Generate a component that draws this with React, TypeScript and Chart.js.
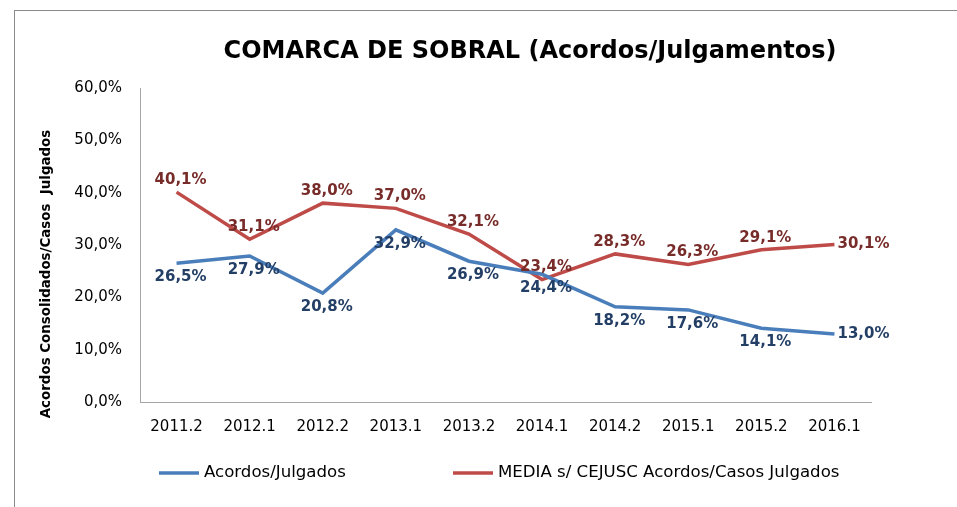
import React, { useEffect, useRef } from "react";
import { Chart, registerables } from "chart.js";

Chart.register(...registerables);

const categories = ["2011.2", "2012.1", "2012.2", "2013.1", "2013.2", "2014.1", "2014.2", "2015.1", "2015.2", "2016.1"];
const acordosJulgados = [26.5, 27.9, 20.8, 32.9, 26.9, 24.4, 18.2, 17.6, 14.1, 13.0];
const mediaCejusc = [40.1, 31.1, 38.0, 37.0, 32.1, 23.4, 28.3, 26.3, 29.1, 30.1];
const seriesNames = ["Acordos/Julgados", "MEDIA s/ CEJUSC Acordos/Casos Julgados"];
const chartTitle = "COMARCA DE SOBRAL (Acordos/Julgamentos)";
const yAxisTitle = "Acordos Consolidados/Casos  Julgados";
const yMin = 0;
const yMax = 60;
const yStep = 10;

const LINE_COLORS = ["#4A7EBB", "#BE4B48"];
const LABEL_COLORS = ["#243F66", "#772C2A"];
const FONT = "'DejaVu Sans', Verdana, sans-serif";

const fmt = (v: number) => v.toFixed(1).replace(".", ",") + "%";

const decorPlugin = {
  id: "decor",
  afterDraw(chart: any) {
    const ctx = chart.ctx as CanvasRenderingContext2D;
    ctx.save();
    // Title
    ctx.fillStyle = "#000";
    ctx.font = `bold 24px ${FONT}`;
    ctx.textAlign = "center";
    ctx.textBaseline = "middle";
    ctx.fillText(chartTitle, 530, 52);
    // Y axis title
    ctx.save();
    ctx.translate(47, 274);
    ctx.rotate(-Math.PI / 2);
    ctx.font = `bold 13.4px ${FONT}`;
    ctx.fillText(yAxisTitle, 0, 0);
    ctx.restore();
    // Legend
    const legendY = 473;
    const items = [
      { x: 159, color: LINE_COLORS[0], text: chart.data.datasets[0].label },
      { x: 453, color: LINE_COLORS[1], text: chart.data.datasets[1].label },
    ];
    ctx.font = `16.6px ${FONT}`;
    ctx.textAlign = "left";
    items.forEach((it) => {
      ctx.strokeStyle = it.color;
      ctx.lineWidth = 3.5;
      ctx.beginPath();
      ctx.moveTo(it.x, legendY);
      ctx.lineTo(it.x + 40, legendY);
      ctx.stroke();
      ctx.fillStyle = "#000";
      ctx.fillText(it.text, it.x + 45, legendY);
    });
    ctx.restore();
  },
  afterDatasetsDraw(chart: any) {
    const ctx = chart.ctx as CanvasRenderingContext2D;
    ctx.save();
    ctx.font = `bold 15px ${FONT}`;
    chart.data.datasets.forEach((ds: any, di: number) => {
      const meta = chart.getDatasetMeta(di);
      ctx.fillStyle = LABEL_COLORS[di];
      meta.data.forEach((pt: any, i: number) => {
        const txt = fmt(ds.data[i]);
        const last = i === meta.data.length - 1;
        ctx.textBaseline = "middle";
        if (last) {
          ctx.textAlign = "left";
          ctx.fillText(txt, pt.x + 3, pt.y);
        } else if (di === 1) {
          ctx.textAlign = "center";
          ctx.fillText(txt, pt.x + 4, pt.y - 12);
        } else {
          ctx.textAlign = "center";
          ctx.fillText(txt, pt.x + 4, pt.y + 14);
        }
      });
    });
    ctx.restore();
  },
};

export default function App() {
  const ref = useRef<HTMLCanvasElement | null>(null);
  useEffect(() => {
    if (!ref.current) return;
    const chart = new Chart(ref.current, {
      type: "line",
      data: {
        labels: categories,
        datasets: [
          {
            label: seriesNames[0],
            data: acordosJulgados,
            borderColor: LINE_COLORS[0],
            backgroundColor: LINE_COLORS[0],
            borderWidth: 3.5,
            pointRadius: 0,
            tension: 0,
          },
          {
            label: seriesNames[1],
            data: mediaCejusc,
            borderColor: LINE_COLORS[1],
            backgroundColor: LINE_COLORS[1],
            borderWidth: 3.5,
            pointRadius: 0,
            tension: 0,
          },
        ],
      },
      options: {
        animation: false,
        responsive: false,
        maintainAspectRatio: false,
        layout: { padding: { left: 0, right: 86, top: 88, bottom: 65 } },
        plugins: {
          legend: { display: false },
          title: { display: false },
          tooltip: { enabled: false },
        },
        scales: {
          x: {
            type: "category",
            offset: true,
            grid: { display: false, drawTicks: false },
            border: { display: true, color: "#A6A6A6", width: 1 },
            ticks: { color: "#000", padding: 16, font: { family: FONT, size: 15 }, maxRotation: 0 },
            afterFit: (s: any) => { s.height = 40; },
          },
          y: {
            min: yMin,
            max: yMax,
            grid: { display: false, drawTicks: false },
            border: { display: true, color: "#A6A6A6", width: 1 },
            ticks: {
              stepSize: yStep,
              color: "#000",
              padding: 18,
              font: { family: FONT, size: 15 },
              callback: (v: any) => fmt(Number(v)),
            },
            afterFit: (s: any) => { s.width = 140; },
          },
        },
      },
      plugins: [decorPlugin],
    });
    return () => chart.destroy();
  }, []);
  return (
    <div style={{ position: "absolute", left: 0, top: 0, width: 957, height: 507, background: "#fff", overflow: "hidden" }}>
      <div style={{ position: "absolute", left: 14, top: 10, width: 1000, height: 600, borderTop: "1.5px solid #8A8A8A", borderLeft: "1.5px solid #8A8A8A" }} />
      <canvas ref={ref} width={957} height={507} style={{ position: "absolute", left: 0, top: 0 }} />
    </div>
  );
}
